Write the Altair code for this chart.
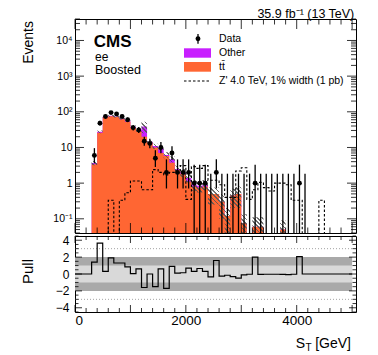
import altair as alt
import pandas as pd
import numpy as np

FONT = "Liberation Sans"

# ---------------- values ----------------
bin_width = 100
bin_low = list(range(0, 5000, bin_width))  # 50 bins in S_T [GeV]

data_counts = [0, 0, 0, 6, 48, 74, 95, 87, 74, 60,
               36, 31, 15, 13, 5, 10, 2, 7, 2, 2,
               2, 1, 1, 1, 0, 2, 0, 0, 0, 0,
               0, 0, 1, 0, 0, 0, 0, 0, 0, 0,
               1, 0, 0, 0, 0, 0, 0, 0, 0, 0]

ttbar = [0, 0, 0, 3.4, 26, 70, 75, 72, 62, 53,
         36, 29, 20, 13.5, 10, 7, 5.8, 3.7, 2.3, 1.8,
         1.1, 0.8, 0.75, 0.8, 0.5, 0.5, 0.3, 0.12, 0.45, 0.5,
         0.075, 0, 0.06, 0.06, 0, 0, 0, 0.05, 0, 0,
         0, 0, 0, 0, 0, 0, 0, 0, 0, 0]

other = [0, 0, 0, 0.25, 1.5, 3, 2, 2, 3, 3,
         2, 2, 19, 1, 1, 2.3, 0.4, 1.0, 0.2, 0.2,
         0.3, 0.1, 0.1, 0.12, 0, 0, 0, 0, 0, 0,
         0, 0, 0, 0, 0, 0, 0, 0, 0, 0,
         0, 0, 0, 0, 0, 0, 0, 0, 0, 0]

mc_unc = [0, 0, 0, 0.5, 2.5, 5, 5, 5, 4.5, 4,
          3, 3, 14, 2, 1.8, 1.5, 1.2, 0.9, 0.6, 0.5,
          0.35, 0.3, 0.3, 0.3, 0.25, 0.25, 0.2, 0.08, 0.25, 0.3,
          0.06, 0, 0.05, 0.05, 0, 0, 0, 0.04, 0, 0,
          0, 0, 0, 0, 0, 0, 0, 0, 0, 0]

zprime = [0, 0, 0, 0, 0, 0, 0.33, 0, 0.33, 0.54,
          1.15, 1.15, 0.65, 0.65, 2.4, 2.0, 1.7, 2.0, 2.2, 3.1,
          0.35, 2.9, 2.6, 3.1, 1.2, 1.2, 0.9, 0.4, 0.4, 2.2,
          2.7, 0.35, 0.65, 1.05, 0.75, 0.6, 1.0, 1.0, 0.9, 0.33,
          0.33, 0, 0, 0, 0.33, 0, 0, 0, 0, 0]

pull = [0, 0, 0, 1.4, 3.65, 0.3, 1.9, 1.3, 1.3, 0.85,
        0.05, 0.6, -1.6, 0.0, -1.5, 0.6, -1.7, 0.9, 0.1, 0.15,
        0.7, 0.3, 0.65, 0.3, -0.35, 1.6, -0.25, -0.15, -0.3, -0.5,
        -0.1, -0.03, 2.0, -0.05, -0.03, -0.03, -0.03, -0.05, -0.08, -0.03,
        2.05, 0, 0, 0, 0, 0, 0, 0, 0, 0]

# range of bins in which empty data bins still show their error bar
empty_err_first, empty_err_last = 300, 4100

y_major = [0.1, 1, 10, 100, 1000, 10000]
y_major_text = ["10\u207b\u00b9", "1", "10", "10\u00b2", "10\u00b3", "10\u2074"]
x_major = [0, 1000, 2000, 3000, 4000, 5000]
x_label_values = [0, 2000, 4000]
pull_major = [-4, -2, 0, 2, 4]
pull_dotted = [3, -3]
pull_bands = [2, 1]

legend_labels = ["Data", "Other", "tt\u0304", "Z' 4.0 TeV, 1% width (1 pb)"]

# ---------------- styles / geometry ----------------
ORANGE = "#ff6633"
PURPLE = "#c81fff"
W, HM, HP = 281, 214, 76
X_MAX = 5070
Y_MIN, Y_MAX = 0.04, 4e4
P_MIN, P_MAX = -4.5, 4.5
ZERO = 1e-3  # stands for an empty bin on the log axis (clipped away)

# ---------------- derived tables ----------------
x_hi = bin_low[-1] + bin_width
edges = bin_low + [x_hi]


def step(v):
    return list(v) + [v[-1]]


def pos(v):
    return [a if a > 0 else ZERO for a in v]


total = [a + b for a, b in zip(ttbar, other)]
band_hi = [t + u if t > 0 else ZERO for t, u in zip(total, mc_unc)]
band_lo = [max(t - u, ZERO) if t > 0 else ZERO for t, u in zip(total, mc_unc)]

df_step = pd.DataFrame({
    "edge": edges,
    "tt": step(pos(ttbar)),
    "tot": step(pos(total)),
    "hi": step(band_hi),
    "lo": step(band_lo),
    "zp": step(pos(zprime)),
    "floor": Y_MIN,
})

garwood = {0: (0.0, 1.841), 1: (0.173, 3.300), 2: (0.708, 4.638), 3: (1.367, 5.918),
           4: (2.086, 7.163), 5: (2.840, 8.382), 6: (3.620, 9.584), 7: (4.419, 10.77),
           8: (5.232, 11.95), 9: (6.057, 13.11), 10: (6.891, 14.27)}


def interval(n):
    if n in garwood:
        lo, hi = garwood[n]
    else:
        s = np.sqrt(n)
        lo, hi = n - s + 0.05, n + s + 1.0
    if n <= 1:
        lo = ZERO
    return lo, hi


rows = []
for lo_edge, n in zip(bin_low, data_counts):
    if n > 0 or (empty_err_first <= lo_edge <= empty_err_last):
        elo, ehi = interval(n)
        rows.append({"c": lo_edge + bin_width / 2, "n": n if n > 0 else ZERO,
                     "elo": elo, "ehi": ehi, "has": n > 0})
df_data = pd.DataFrame(rows)
df_pts = df_data[df_data["has"]]

y_minor = [k * 10.0 ** e for e in range(-2, 5) for k in range(2, 10)
           if Y_MIN <= k * 10.0 ** e <= Y_MAX]
x_minor = [v for v in range(0, X_MAX, 200) if v not in x_major]
p_minor = [v for v in np.arange(P_MIN, P_MAX + 0.01, 0.5) if v not in pull_major]

df_step_pull = pd.DataFrame({"edge": edges, "p": step(pull)})

one = pd.DataFrame({"k": [0]})

# ---------------- scales / axes ----------------
xs = alt.Scale(domain=[0, X_MAX], nice=False, zero=False)
ys = alt.Scale(type="log", domain=[Y_MIN, Y_MAX], nice=False)
ps = alt.Scale(domain=[P_MIN, P_MAX], nice=False, zero=False)

off = -int(round(np.log10(y_major[0])))
label_expr = "[" + ",".join("'%s'" % s for s in y_major_text) + "][round(log(datum.value)/LN10)+%d]" % off
yax = alt.Axis(values=y_major, labelExpr=label_expr, ticks=False, domain=False, grid=False,
               labelFontSize=10.5, labelPadding=3, labelFont=FONT, labelColor="black", title="")
pyax = alt.Axis(values=pull_major, ticks=False, domain=False, grid=False,
                labelFontSize=12, labelPadding=6, labelFont=FONT, labelColor="black", title="")
pxax = alt.Axis(values=x_label_values, format="d", ticks=False, domain=False, grid=False,
                labelFontSize=13.5, labelPadding=1, labelFont=FONT, labelColor="black", title="")


def XM(f):
    return alt.X(f, type="quantitative", scale=xs, axis=None)


def YM(f):
    return alt.Y(f, type="quantitative", scale=ys, axis=yax)


def XP(f):
    return alt.X(f, type="quantitative", scale=xs, axis=pxax)


def YP(f):
    return alt.Y(f, type="quantitative", scale=ps, axis=pyax)


def txt(s, x, y, size, align="left", baseline="alphabetic", weight="normal", angle=0):
    return alt.Chart(one).mark_text(text=s, align=align, baseline=baseline, fontSize=size,
                                    font=FONT, fontWeight=weight, angle=angle,
                                    color="black").encode(x=alt.value(x), y=alt.value(y))


def anchor(x, y):
    # invisible zero-size mark that fixes the outer extent of a panel
    return alt.Chart(one).mark_rule(strokeWidth=0, opacity=0).encode(
        x=alt.value(x), x2=alt.value(x), y=alt.value(y), y2=alt.value(y))


# hatch-like fill for the uncertainty band
N_STRIPES, FRAC = 90, 0.4
clear, gray = "rgba(0,0,0,0)", "rgba(85,85,85,0.85)"
stops = []
for i in range(N_STRIPES):
    a, b = i / N_STRIPES, (i + FRAC) / N_STRIPES
    stops += [{"offset": a, "color": clear}, {"offset": a, "color": gray},
              {"offset": b, "color": gray}, {"offset": b, "color": clear}]
stops.append({"offset": 1, "color": clear})
hatch = {"gradient": "linear", "x1": 0, "y1": 0.63, "x2": 1, "y2": 0, "stops": stops}

# ---------------- main panel ----------------
purple_area = alt.Chart(df_step).mark_area(interpolate="step-after", color=PURPLE, clip=True).encode(
    x=XM("edge"), y=YM("tot"), y2="floor:Q")
orange_area = alt.Chart(df_step).mark_area(interpolate="step-after", color=ORANGE, clip=True).encode(
    x=XM("edge"), y=YM("tt"), y2="floor:Q")
band = alt.Chart(df_step).mark_area(interpolate="step-after", fill=hatch, clip=True).encode(
    x=XM("edge"), y=YM("hi"), y2="lo:Q")
zline = alt.Chart(df_step).mark_line(interpolate="step-after", color="black", strokeWidth=1.1,
                                     strokeDash=[2.5, 2], clip=True).encode(x=XM("edge"), y=YM("zp"))
ebars = alt.Chart(df_data).mark_rule(color="black", strokeWidth=1.3, clip=True).encode(
    x=XM("c"), y=YM("elo"), y2="ehi:Q")
pts = alt.Chart(df_pts).mark_circle(size=24, color="black", opacity=1).encode(x=XM("c"), y=YM("n"))


def yticks(vals, length, scale_enc, width):
    d = pd.DataFrame({"v": vals})
    left = alt.Chart(d).mark_rule(color="black", strokeWidth=0.8).encode(
        y=scale_enc("v"), x=alt.value(0), x2=alt.value(length))
    right = alt.Chart(d).mark_rule(color="black", strokeWidth=0.8).encode(
        y=scale_enc("v"), x=alt.value(width - length), x2=alt.value(width))
    return [left, right]


def xticks(vals, length, scale_enc, height):
    d = pd.DataFrame({"v": vals})
    bottom = alt.Chart(d).mark_rule(color="black", strokeWidth=0.8).encode(
        x=scale_enc("v"), y=alt.value(height - length), y2=alt.value(height))
    top = alt.Chart(d).mark_rule(color="black", strokeWidth=0.8).encode(
        x=scale_enc("v"), y=alt.value(0), y2=alt.value(length))
    return [bottom, top]


main_ticks = (yticks(y_major, 9, YM, W) + yticks(y_minor, 5, YM, W) +
              xticks(x_major, 10, XM, HM) + xticks(x_minor, 5.5, XM, HM))

leg = [
    alt.Chart(one).mark_rule(color="black", strokeWidth=1.3).encode(
        x=alt.value(123), y=alt.value(15), y2=alt.value(24.7)),
    alt.Chart(one).mark_circle(size=24, color="black", opacity=1).encode(
        x=alt.value(123), y=alt.value(19.7)),
    alt.Chart(one).mark_rect(color=PURPLE).encode(
        x=alt.value(109), x2=alt.value(136), y=alt.value(29.3), y2=alt.value(38.7)),
    alt.Chart(one).mark_rect(color=ORANGE).encode(
        x=alt.value(109), x2=alt.value(136), y=alt.value(43), y2=alt.value(52.7)),
    alt.Chart(one).mark_rule(color="black", strokeWidth=1.1, strokeDash=[2.5, 2]).encode(
        x=alt.value(109), x2=alt.value(136), y=alt.value(62)),
    txt(legend_labels[0], 144, 19.7, 10.5, baseline="middle"),
    txt(legend_labels[1], 144, 33.5, 10.5, baseline="middle"),
    txt(legend_labels[2], 144, 47.5, 10.5, baseline="middle"),
    txt(legend_labels[3], 144, 62, 10.5, baseline="middle"),
]

texts_main = [
    txt("CMS", 18.7, 27.8, 17, weight="bold"),
    txt("ee", 20, 42, 12),
    txt("Boosted", 20, 55.3, 12.5),
    txt("35.9 fb\u207b\u00b9 (13 TeV)", 279.3, -1.3, 12.5, align="right"),
    txt("Events", -42.5, 2, 14, align="right", angle=270),
]

main = alt.layer(purple_area, orange_area, band, zline, ebars, pts, *main_ticks, *leg,
                 *texts_main, anchor(-66, -20), anchor(-66, HM + 0.5)).properties(width=W, height=HM)

# ---------------- pull panel ----------------
df_bands = pd.DataFrame({"lo": [-b for b in pull_bands], "hi": pull_bands,
                         "x0": 0, "x1": x_hi})
band_dark = alt.Chart(df_bands.iloc[[0]]).mark_rect(color="#a9a9a9").encode(
    x=XP("x0"), x2="x1:Q", y=YP("lo"), y2="hi:Q")
band_light = alt.Chart(df_bands.iloc[[1]]).mark_rect(color="#d9d9d9").encode(
    x=XP("x0"), x2="x1:Q", y=YP("lo"), y2="hi:Q")
df_dot = pd.DataFrame({"lvl": pull_dotted, "x0": 0, "x1": x_hi})
dotted = alt.Chart(df_dot).mark_rule(color="#8c8c8c", strokeWidth=0.8, strokeDash=[1, 2]).encode(
    x=XP("x0"), x2="x1:Q", y=YP("lvl"))
pull_line = alt.Chart(df_step_pull).mark_line(interpolate="step-after", color="black",
                                              strokeWidth=1.2, clip=True).encode(
    x=XP("edge"), y=YP("p"))

pull_ticks = (yticks(pull_major, 7, YP, W) + yticks(p_minor, 3.5, YP, W) +
              xticks(x_major, 7, XP, HP) + xticks(x_minor, 4, XP, HP))

texts_pull = [
    txt("Pull", -42.5, 35.5, 15, align="center", angle=270),
    txt("S", 230.2, 111.8, 14, align="right"),
    txt("T", 230.6, 114.8, 10),
    txt("[GeV]", 276, 111.8, 14, align="right"),
]

pullp = alt.layer(band_dark, band_light, dotted, pull_line, *pull_ticks, *texts_pull,
                  anchor(-66, -3.5)).properties(width=W, height=HP)


def build(pad, sp):
    return alt.vconcat(main, pullp, spacing=sp).properties(
        padding=pad
    ).configure_view(stroke="black", strokeWidth=1)


chart = None
for pad, sp in [({"left": 0, "top": -10, "right": 0, "bottom": 0}, -2),
                ({"left": 0, "top": -10, "right": 0, "bottom": 0}, 0),
                ({"left": 0, "top": 0, "right": 0, "bottom": 0}, 0)]:
    try:
        c = build(pad, sp)
        c.to_dict()
        chart = c
        break
    except Exception:
        continue

chart.save("out.html", embed_options={"renderer": "svg", "actions": False})
